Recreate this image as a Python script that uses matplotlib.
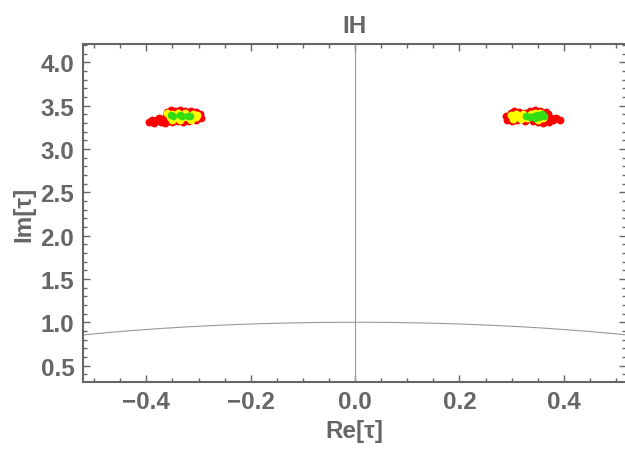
import numpy as np
import matplotlib.pyplot as plt
from matplotlib.ticker import MultipleLocator

# points (Re tau, Im tau)
red_x = [-0.395, -0.39, -0.385, -0.38, -0.375, -0.372, -0.368, -0.362, -0.365, -0.358,
         -0.36, -0.352, -0.345, -0.335, -0.325, -0.315, -0.305, -0.298, -0.296,
         -0.35, -0.34, -0.33, -0.318, -0.305, -0.342,
         0.29, 0.292, 0.298, 0.305, 0.315, 0.325, 0.335, 0.345, 0.355, 0.365, 0.37,
         0.375, 0.38, 0.385, 0.392, 0.372, 0.36, 0.35, 0.34, 0.325, 0.31, 0.30]
red_y = [3.31, 3.34, 3.30, 3.33, 3.36, 3.31, 3.34, 3.38, 3.30, 3.32,
         3.43, 3.45, 3.44, 3.45, 3.44, 3.44, 3.43, 3.40, 3.36,
         3.31, 3.32, 3.31, 3.32, 3.33, 3.34,
         3.38, 3.34, 3.42, 3.44, 3.43, 3.42, 3.44, 3.45, 3.44, 3.43, 3.40,
         3.36, 3.34, 3.36, 3.33, 3.31, 3.30, 3.31, 3.32, 3.32, 3.33, 3.32]

yellow_x = [-0.36, -0.355, -0.35, -0.345, -0.34, -0.33, -0.325, -0.318, -0.31, -0.305,
            -0.35, -0.335, -0.315, -0.302,
            0.298, 0.302, 0.308, 0.312, 0.318, 0.322, 0.33, 0.338, 0.345, 0.355, 0.36, 0.35]
yellow_y = [3.41, 3.37, 3.40, 3.36, 3.41, 3.37, 3.41, 3.36, 3.40, 3.37,
            3.34, 3.34, 3.34, 3.39,
            3.39, 3.35, 3.40, 3.37, 3.35, 3.40, 3.36, 3.40, 3.42, 3.41, 3.36, 3.34]

green_x = [-0.352, -0.348, -0.336, -0.332, -0.321, -0.317,
           0.328, 0.335, 0.342, 0.348, 0.352, 0.358, 0.362, 0.345]
green_y = [3.39, 3.38, 3.39, 3.38, 3.385, 3.375,
           3.38, 3.37, 3.38, 3.39, 3.37, 3.40, 3.38, 3.355]

grey = '#666666'
plt.rcParams['font.family'] = ['Liberation Sans', 'DejaVu Sans']
plt.rcParams['font.weight'] = 'bold'

fig = plt.figure(figsize=(6.25, 4.56), dpi=100)
ax = fig.add_axes([0.1323, 0.160, 0.870, 0.741])

# unit circle boundary and Re=0 line
xs = np.linspace(-1, 1, 400)
ax.plot(xs, np.sqrt(1 - xs**2), color='#999999', lw=0.8)
ax.axvline(0, color='#999999', lw=0.8)

ax.scatter(red_x, red_y, s=32, color='#ff0000', lw=0)
ax.scatter(yellow_x, yellow_y, s=32, color='#ffff00', lw=0)
ax.scatter(green_x, green_y, s=30, color='#33dd11', lw=0)

ax.set_xlim(-0.522, 0.52)
ax.set_ylim(0.31, 4.21)
ax.xaxis.set_major_locator(MultipleLocator(0.2))
ax.xaxis.set_minor_locator(MultipleLocator(0.05))
ax.yaxis.set_major_locator(MultipleLocator(0.5))
ax.yaxis.set_minor_locator(MultipleLocator(0.1))
ax.tick_params(which='both', direction='in', top=True, right=True,
               color=grey, labelcolor=grey, labelsize=17.5, width=1)
ax.tick_params(which='major', length=5, pad=6)
ax.tick_params(which='minor', length=3)
for sp in ax.spines.values():
    sp.set_color(grey)
    sp.set_linewidth(1.5)

ax.set_xlabel('Re[τ]', color=grey, fontsize=17.5, fontweight='bold', labelpad=4)
ax.set_ylabel('Im[τ]', color=grey, fontsize=17.5, fontweight='bold', labelpad=4)
ax.set_title('IH', color=grey, fontsize=17.5, fontweight='bold', pad=9)

fig.savefig('out.png', dpi=100)
